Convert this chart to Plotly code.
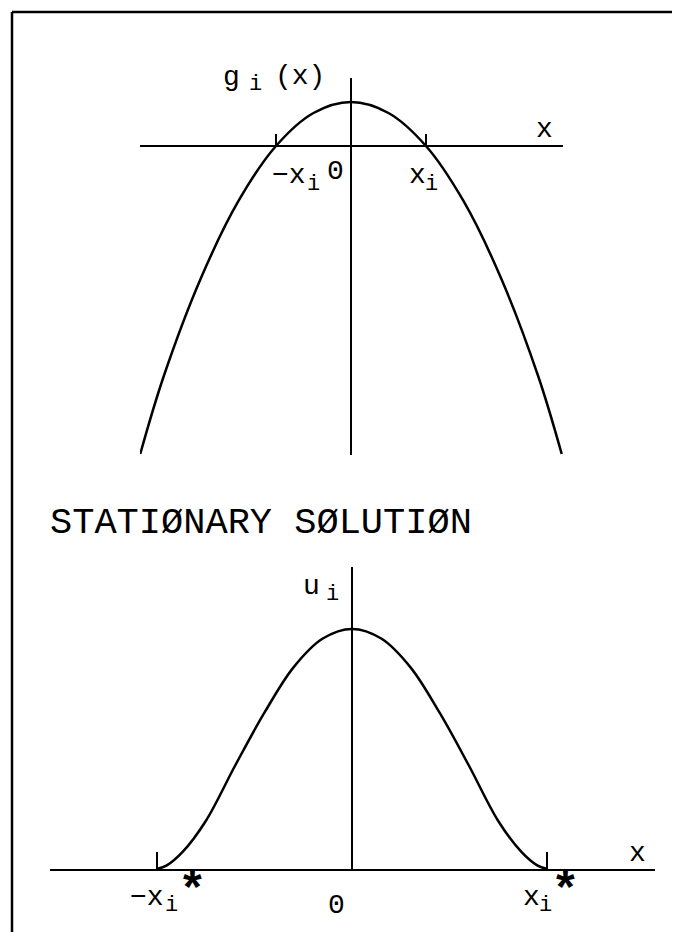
import plotly.graph_objects as go

W, H = 680, 932
OFF = 8  # the page body adds an 8 px margin, so positions are measured minus 8 px

# upper panel: g_i(x) (x in units of x_i, g in units of g_i(0))
x_top = [-2.81, -2.5, -2.0, -1.5, -1.0, -0.5, 0.0, 0.5, 1.0, 1.5, 2.0, 2.5, 2.81]
g_top = [-7.0, -5.25, -3.0, -1.25, 0.0, 0.75, 1.0, 0.75, 0.0, -1.25, -3.0, -5.25, -7.0]

# lower panel: stationary solution u_i (x in units of x_i*, u in units of u_i(0))
x_bot = [-1.0, -0.95, -0.87, -0.75, -0.6, -0.45, -0.3, -0.15, 0.0,
         0.15, 0.3, 0.45, 0.6, 0.75, 0.87, 0.95, 1.0]
u_bot = [0.0, 0.015, 0.07, 0.2, 0.43, 0.65, 0.84, 0.96, 1.0,
         0.96, 0.84, 0.65, 0.43, 0.2, 0.07, 0.015, 0.0]

tick_top = [-1, 1]
tick_bot = [-1, 1]

title = "STATIØNARY SØLUTIØN"
FONT = "Liberation Mono"


def px(v):
    # screen pixel (as measured on the reference) -> paper x
    return (v - OFF) / W


def py(v):
    return 1 - (v - OFF) / H


fig = go.Figure()
fig.add_trace(go.Scatter(x=x_top, y=g_top, mode="lines", line_shape="spline",
                         line=dict(color="black", width=2.5), xaxis="x", yaxis="y",
                         hoverinfo="skip"))
fig.add_trace(go.Scatter(x=x_bot, y=u_bot, mode="lines", line_shape="spline",
                         line=dict(color="black", width=2.5), xaxis="x2", yaxis="y2",
                         hoverinfo="skip"))

ax = dict(showgrid=False, zeroline=False, showline=True, linecolor="black",
          linewidth=2, fixedrange=True, showticklabels=False)

fig.update_layout(
    width=W, height=H, margin=dict(l=0, r=0, t=0, b=0),
    paper_bgcolor="white", plot_bgcolor="white", showlegend=False,
    xaxis=dict(ax, domain=[px(140), px(563)], range=[-2.813, 2.827],
               anchor="free", position=py(146), ticks="inside",
               tickvals=tick_top, ticklen=11, tickwidth=2, tickcolor="black"),
    yaxis=dict(ax, domain=[py(455), py(78)], range=[-7.023, 1.545],
               anchor="free", position=px(351), ticks=""),
    xaxis2=dict(ax, domain=[px(50), px(655)], range=[-1.549, 1.554],
                anchor="y2", ticks="inside", tickvals=tick_bot, ticklen=17,
                tickwidth=2, tickcolor="black"),
    yaxis2=dict(ax, domain=[py(869), py(567)], range=[0, 1.258],
                anchor="free", position=px(352), ticks=""),
)

# frame
fig.add_shape(type="line", xref="paper", yref="paper", x0=px(12), x1=px(680),
              y0=py(12), y1=py(12), line=dict(color="black", width=2.5))
fig.add_shape(type="line", xref="paper", yref="paper", x0=px(12), x1=px(12),
              y0=py(12), y1=py(932), line=dict(color="black", width=2.5))


def label(text, x, y, size=28, xanchor="center"):
    # x, y are pixel positions measured on the reference
    fig.add_annotation(text=text, x=px(x), y=py(y), xref="paper", yref="paper",
                       showarrow=False, xanchor=xanchor, yanchor="middle",
                       font=dict(family=FONT, size=size, color="black"))


def sub_i(x, y):
    # the plotter draws the index as a dropped, slightly smaller "i"
    label("i", x, y, size=22)


# upper labels: g_i(x), x, -x_i, 0, x_i
label("g", 231, 77)
sub_i(255, 85)
label("(x)", 300, 76)
label("x", 544, 130)
label("−x", 308, 176, xanchor="right")
sub_i(313, 184)
label("0", 335, 171)
label("x", 417, 176)
sub_i(431, 184)

label(title, 48, 523, size=37, xanchor="left")

# lower labels: u_i, x, -x_i*, 0, x_i*
label("u", 311, 586)
sub_i(332, 594)
label("x", 637, 853)
label("−x", 166, 897, xanchor="right")
sub_i(171, 905)
label("<b>*</b>", 193, 892, size=48)
label("0", 336, 905)
label("x", 531, 897)
sub_i(545, 905)
label("<b>*</b>", 565, 892, size=48)

fig.write_html("out.html")
